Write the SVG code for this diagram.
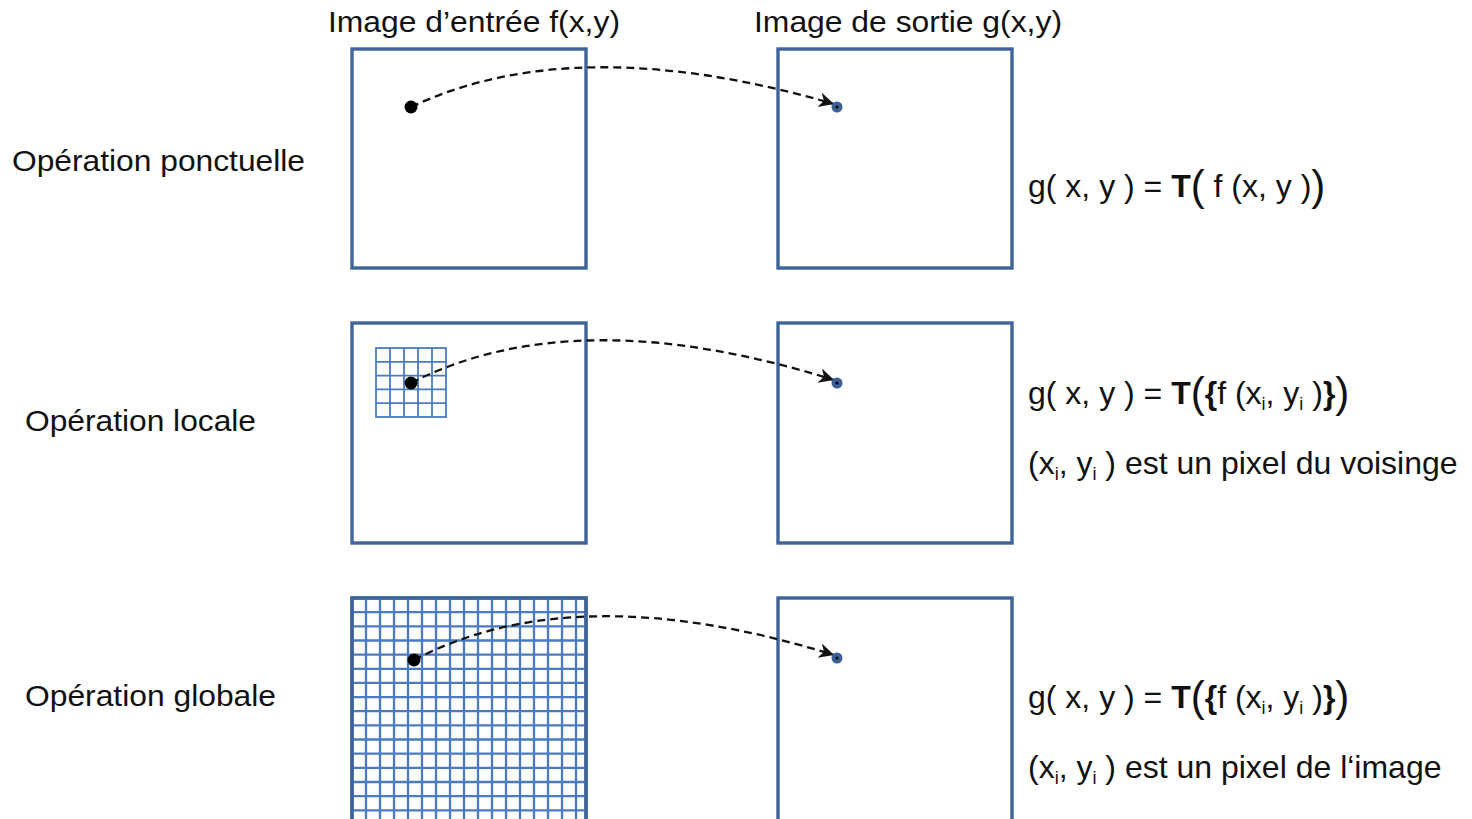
<svg xmlns="http://www.w3.org/2000/svg" width="1472" height="819" viewBox="0 0 1472 819">
<style>
.t{font-family:"Liberation Sans",Arial,sans-serif;fill:#111;}
.lab{font-size:30px;}
.hdr{font-size:29px;}
.f{font-size:32px;}
.sub{font-size:18px;}
.big{font-size:42px;}
.b{font-weight:bold;}
.box{fill:#fff;stroke:#3F6499;stroke-width:3.4;}
.grid{fill:none;stroke:#4A7BC0;stroke-width:1.8;}
.grid2{fill:none;stroke:#4A7BC0;stroke-width:2.3;}
.conn{fill:none;stroke:#111;stroke-width:2.3;stroke-dasharray:8,5;}
</style>
<defs>
<marker id="ah" markerUnits="userSpaceOnUse" markerWidth="20" markerHeight="20" refX="15" refY="7.5" orient="auto">
<path d="M0,0 L15,7.5 L0,15 L4.5,7.5 Z" fill="#111"/>
</marker>
</defs>
<rect width="1472" height="819" fill="#fff"/>

<g id="header-in"><text class="t hdr" x="328" y="32" textLength="292" lengthAdjust="spacingAndGlyphs">Image d’entrée f(x,y)</text></g>
<g id="header-out"><text class="t hdr" x="754" y="32" textLength="308" lengthAdjust="spacingAndGlyphs">Image de sortie g(x,y)</text></g>

<g id="label-ponctuelle"><text class="t lab" x="12" y="171" textLength="293" lengthAdjust="spacingAndGlyphs">Opération ponctuelle</text></g>
<g id="label-locale"><text class="t lab" x="25" y="431" textLength="231" lengthAdjust="spacingAndGlyphs">Opération locale</text></g>
<g id="label-globale"><text class="t lab" x="25" y="706" textLength="251" lengthAdjust="spacingAndGlyphs">Opération globale</text></g>

<g id="in1"><rect class="box" x="352" y="49" width="234" height="219"/></g>
<g id="out1"><rect class="box" x="778" y="49" width="234" height="219"/></g>

<g id="in2">
<rect class="box" x="352" y="323" width="234" height="220"/>
<rect class="grid" x="376" y="348" width="70" height="69"/>
<path class="grid" d="M390,348V417M404,348V417M418,348V417M432,348V417M376,361.8H446M376,375.6H446M376,389.4H446M376,403.2H446"/>
</g>
<g id="out2"><rect class="box" x="778" y="323" width="234" height="220"/></g>

<g id="in3">
<rect class="box" x="352" y="598" width="234" height="240"/>
<path class="grid2" d="M366,598V819M380,598V819M394,598V819M408,598V819M422,598V819M436,598V819M450,598V819M464,598V819M478,598V819M492,598V819M506,598V819M520,598V819M534,598V819M548,598V819M562,598V819M576,598V819
M352,612.2H586M352,626.3H586M352,640.5H586M352,654.6H586M352,668.8H586M352,682.9H586M352,697.1H586M352,711.2H586M352,725.4H586M352,739.5H586M352,753.7H586M352,767.8H586M352,782H586M352,796.1H586M352,810.3H586"/>
<rect class="box" x="352" y="598" width="234" height="240" style="fill:none"/>
</g>
<g id="out3"><rect class="box" x="778" y="598" width="234" height="240"/></g>

<g id="connectors">
<path class="conn" d="M411,107 Q576,29 834,104" marker-end="url(#ah)"/>
<path class="conn" d="M411,383 Q576,299 834,380" marker-end="url(#ah)"/>
<path class="conn" d="M414,660 Q576,575 834,655" marker-end="url(#ah)"/>
</g>

<g id="dots">
<circle cx="411" cy="107" r="6.5" fill="#000"/>
<circle cx="411" cy="383" r="6.5" fill="#000"/>
<circle cx="414" cy="660" r="6.5" fill="#000"/>
<circle cx="837" cy="107" r="5.5" fill="#3B6096"/><circle cx="837" cy="107" r="1.6" fill="#000"/>
<circle cx="837" cy="383" r="5.5" fill="#3B6096"/><circle cx="837" cy="383" r="1.6" fill="#000"/>
<circle cx="837" cy="658" r="5.5" fill="#3B6096"/><circle cx="837" cy="658" r="1.6" fill="#000"/>
</g>

<g id="formula1">
<text class="t f" x="1028" y="197">g( x, y ) = <tspan class="b">T</tspan><tspan class="big" dy="3">(</tspan><tspan dy="-3"> f (x, y )</tspan><tspan class="big" dy="3">)</tspan></text>
</g>

<g id="formula2">
<text class="t f" x="1028" y="404">g( x, y ) = <tspan class="b">T</tspan><tspan class="big" dy="3">(</tspan><tspan class="b" dy="-3">{</tspan>f (x<tspan class="sub" dy="6">i</tspan><tspan dy="-6">, y</tspan><tspan class="sub" dy="6">i</tspan><tspan dy="-6"> )</tspan><tspan class="b">}</tspan><tspan class="big" dy="3">)</tspan></text>
<text class="t f" x="1028" y="474">(x<tspan class="sub" dy="6">i</tspan><tspan dy="-6">, y</tspan><tspan class="sub" dy="6">i</tspan><tspan dy="-6"> ) est un pixel du voisinge</tspan></text>
</g>

<g id="formula3">
<text class="t f" x="1028" y="708">g( x, y ) = <tspan class="b">T</tspan><tspan class="big" dy="3">(</tspan><tspan class="b" dy="-3">{</tspan>f (x<tspan class="sub" dy="6">i</tspan><tspan dy="-6">, y</tspan><tspan class="sub" dy="6">i</tspan><tspan dy="-6"> )</tspan><tspan class="b">}</tspan><tspan class="big" dy="3">)</tspan></text>
<text class="t f" x="1028" y="778">(x<tspan class="sub" dy="6">i</tspan><tspan dy="-6">, y</tspan><tspan class="sub" dy="6">i</tspan><tspan dy="-6"> ) est un pixel de l‘image</tspan></text>
</g>
</svg>
